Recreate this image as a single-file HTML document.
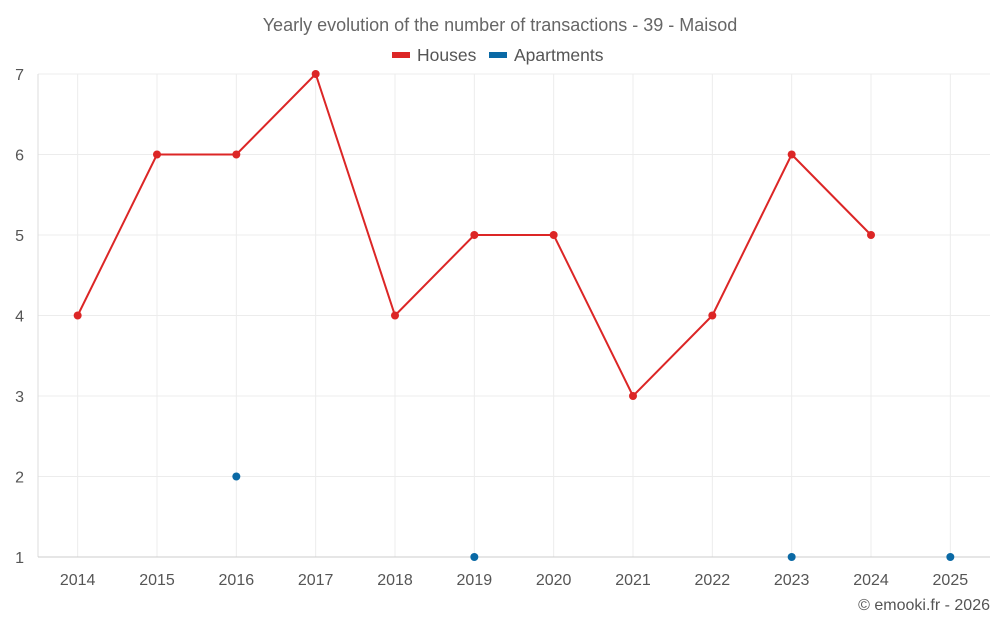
<!DOCTYPE html>
<html><head><meta charset="utf-8"><style>
body{margin:0;background:#fff;font-family:"Liberation Sans",sans-serif}
svg{display:block}
</style></head><body>
<svg id="chart" width="1000" height="625">
<text x="500" y="31" text-anchor="middle" font-size="18" fill="#666">Yearly evolution of the number of transactions - 39 - Maisod</text>
<g>
<g><rect x="392" y="52" width="18" height="6" fill="#dc2626"/><text x="417" y="61" font-size="17.5" fill="#555">Houses</text></g>
<g><rect x="489" y="52" width="18" height="6" fill="#0a69a5"/><text x="514" y="61" font-size="17.5" fill="#555">Apartments</text></g>
</g>
<g id="grid"></g><g id="axes"></g><g id="marks"></g>
<text x="990" y="610" text-anchor="end" font-size="16" fill="#555">© emooki.fr - 2026</text>
</svg>
<script>
const years=[2014,2015,2016,2017,2018,2019,2020,2021,2022,2023,2024,2025];
const houses=[4,6,6,7,4,5,5,3,4,6,5,null];
const apartments=[null,null,2,null,null,1,null,null,null,1,null,1];
const yTicks=[1,2,3,4,5,6,7];
const L=38,R=990,T=74,B=557,ymin=1,ymax=7;
const bw=(R-L)/years.length;
const xs=i=>L+bw*(i+0.5);
const ys=v=>B-(v-ymin)/(ymax-ymin)*(B-T);
const NS="http://www.w3.org/2000/svg";
function mk(tag,attrs,parent){const e=document.createElementNS(NS,tag);for(const k in attrs)e.setAttribute(k,attrs[k]);document.getElementById(parent).appendChild(e);return e;}
yTicks.forEach(t=>{
 const g=mk('line',{x1:L,x2:R,y1:ys(t),y2:ys(t),stroke:t===ymin?'#ccc':'#ececec'},'grid');
 
 
 const l=mk('text',{x:L-14,y:ys(t)+6,'text-anchor':'end','font-size':16,fill:'#555'},'axes');l.textContent=t;
 
 
});
years.forEach((y,i)=>{
 const g=mk('line',{x1:xs(i),x2:xs(i),y1:T,y2:B,stroke:'#ececec'},'grid');
 
 
 const l=mk('text',{x:xs(i),y:585,'text-anchor':'middle','font-size':16,fill:'#555'},'axes');l.textContent=y;
 
 
});
const ax=mk('line',{x1:L,x2:L,y1:T,y2:B,stroke:'#ddd'},'axes');


const bx=mk('line',{x1:L,x2:R,y1:B,y2:B,stroke:'#ccc'},'axes');


let d='';houses.forEach((v,i)=>{if(v!=null)d+=(d?'L':'M')+xs(i)+','+ys(v);});
const p=mk('path',{d:d,fill:'none',stroke:'#dc2626','stroke-width':2},'marks');


houses.forEach((v,i)=>{if(v==null)return;
 const c=mk('circle',{cx:xs(i),cy:ys(v),r:4,fill:'#dc2626'},'marks');
 
 });
apartments.forEach((v,i)=>{if(v==null)return;
 const c=mk('circle',{cx:xs(i),cy:ys(v),r:4,fill:'#0a69a5'},'marks');
 
 });
</script>
</body></html>
